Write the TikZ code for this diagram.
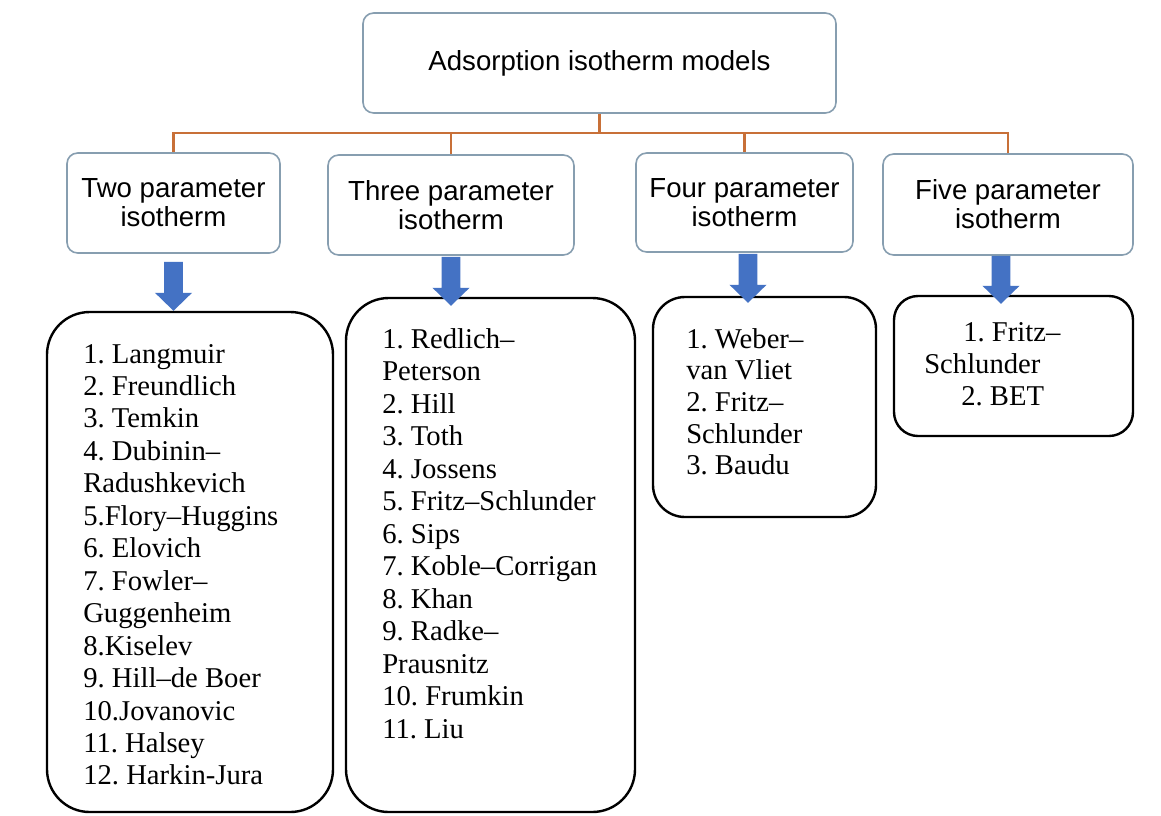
\documentclass[tikz,border=0pt]{standalone}
\usepackage{fontspec}
\setmainfont{Liberation Serif}
\newfontfamily\hdrfont{Liberation Sans}
\usetikzlibrary{calc}
\definecolor{hdrborder}{RGB}{135,158,176}
\definecolor{busorange}{RGB}{200,112,56}
\definecolor{arrowblue}{RGB}{68,114,196}
\newcommand\blockarr[2]{%
  \fill[arrowblue] let \p1=(#1), \p2=(#2) in
    (\x1-7.1pt,\y1) -- (\x1-7.1pt,\y2+13.5pt) -- (\x1-13.9pt,\y2+13.5pt) --
    (\x1,\y2) -- (\x1+13.9pt,\y2+13.5pt) -- (\x1+7.1pt,\y2+13.5pt) --
    (\x1+7.1pt,\y1) -- cycle;}
\frenchspacing
\begin{document}
\begin{tikzpicture}[x=0.75pt,y=-0.75pt,
  hdrbox/.style={draw=hdrborder,line width=1.2pt,rounded corners=8pt,fill=white,
    inner sep=0pt,align=center,font=\hdrfont\fontsize{20.7}{21.75}\selectfont},
  listbox/.style={draw=black,line width=1.8pt,inner sep=0pt},
  listtext/.style={anchor=base west,inner sep=0pt,font=\frenchspacing\fontsize{21.5}{24}\selectfont},
  bus/.style={draw=busorange,line width=2.1pt}]
\useasboundingbox[fill=white] (0,0) rectangle (1161,815);

% header boxes
\node[hdrbox,minimum width=354.75pt,minimum height=75pt] (top) at (599.5,63) {Adsorption isotherm models};
\node[hdrbox,minimum width=159.75pt,minimum height=75pt] (two) at (173.5,203) {Two parameter\\isotherm};
\node[hdrbox,minimum width=184.5pt,minimum height=75pt] (three) at (451,205) {Three parameter\\isotherm};
\node[hdrbox,minimum width=162.75pt,minimum height=74.25pt] (four) at (744.5,202.5) {Four parameter\\isotherm};
\node[hdrbox,minimum width=187.5pt,minimum height=75.75pt] (five) at (1008,204.5) {Five parameter\\isotherm};

% orange tree connectors
\coordinate (bus) at (599.5,133);
\draw[bus] (top.south) -- (bus);
\draw[bus] (two.north) |- (bus);
\draw[bus] (three.north) |- (bus);
\draw[bus] (four.north) |- (bus);
\draw[bus] (five.north) |- (bus);

% list boxes
\node[listbox,rounded corners=32pt,minimum width=214.5pt,minimum height=375pt] (l1) at (190,562) {};
\node[listbox,rounded corners=32pt,minimum width=216.75pt,minimum height=385.5pt] (l2) at (490.5,555) {};
\node[listbox,rounded corners=24pt,minimum width=167.25pt,minimum height=165pt] (l3) at (764.5,407) {};
\node[listbox,rounded corners=18pt,minimum width=179.25pt,minimum height=105pt] (l4) at (1013.5,366) {};

% block arrows
\blockarr{$(two.south)+(0,8)$}{$(two.south)+(0,57)$}
\blockarr{$(three.south)+(0,1)$}{$(three.south)+(0,50)$}
\blockarr{$(four.south)+(3.5,1)$}{$(four.south)+(3.5,50)$}
\blockarr{$(five.south)+(-7,0)$}{$(five.south)+(-7,48)$}

% list texts
\foreach \t [count=\i] in {1. Langmuir,2. Freundlich,3. Temkin,4. Dubinin–,Radushkevich,5.Flory–Huggins,6. Elovich,7. Fowler–,Guggenheim,8.Kiselev,9. Hill–de Boer,10.Jovanovic,11. Halsey,12. Harkin-Jura}
  \node[listtext] (ta\i) at (83,{363+32.46*(\i-1)}) {\t};
\foreach \t [count=\i] in {1. Redlich–,Peterson,2. Hill,3. Toth,4. Jossens,5. Fritz–Schlunder,6. Sips,7. Koble–Corrigan,8. Khan,9. Radke–,Prausnitz,10. Frumkin,11. Liu}
  \node[listtext] (tb\i) at (382,{348+32.5*(\i-1)}) {\t};
\foreach \t [count=\i] in {1. Weber–,van Vliet,2. Fritz–,Schlunder,3. Baudu}
  \node[listtext] (tc\i) at (686,{348+31.7*(\i-1)}) {\t};
\node[listtext] (td1) at (963,341) {1. Fritz–};
\node[listtext] (td2) at (924,373) {Schlunder};
\node[listtext] (td3) at (961,405) {2. BET};
\end{tikzpicture}
\end{document}
